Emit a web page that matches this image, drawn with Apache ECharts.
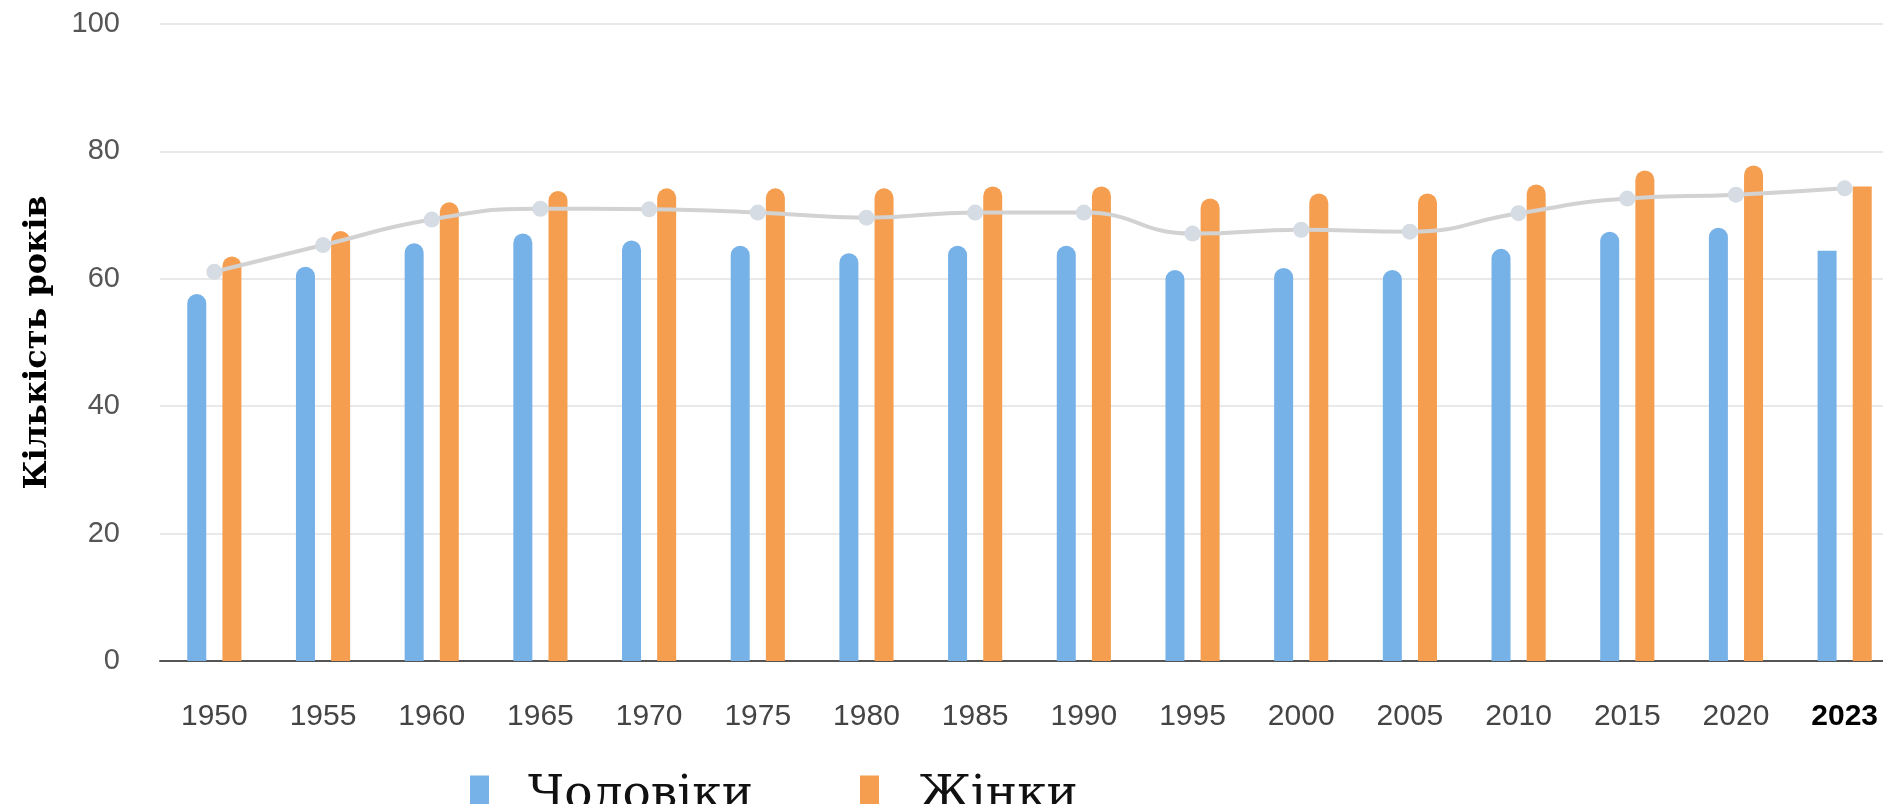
<!DOCTYPE html>
<html>
<head>
<meta charset="utf-8">
<script src="https://cdn.jsdelivr.net/npm/echarts@6/dist/echarts.min.js"></script>
<style>
	html, body { margin: 0; padding: 0; background: #fff; overflow: hidden; }
	#lifeChart { width: 1900px; height: 804px; }
</style>
</head>
<body>
<div id="lifeChart"></div>
<script>
	// роки
	var years = ["1950", "1955", "1960", "1965", "1970", "1975", "1980", "1985",
		"1990", "1995", "2000", "2005", "2010", "2015", "2020", "2023"];
	// тривалість життя, роки
	var men = [57.6, 61.9, 65.6, 67.1, 66.0, 65.2, 64.0, 65.2,
		65.2, 61.4, 61.7, 61.4, 64.7, 67.4, 68.0, 64.4];
	var women = [63.5, 67.5, 72.0, 73.8, 74.2, 74.2, 74.2, 74.5,
		74.5, 72.6, 73.4, 73.4, 74.8, 77.0, 77.8, 74.5];
	var total = [61.1, 65.3, 69.3, 71.0, 70.9, 70.4, 69.6, 70.4,
		70.4, 67.1, 67.7, 67.4, 70.3, 72.6, 73.2, 74.2];
	var yTicks = [0, 20, 40, 60, 80, 100];

	var legendFont = {
		fontFamily: "DejaVu Serif",
		fontSize: 47,
		color: "#111",
		padding: [0, 0, 0, 34]
	};

	function barData(values) {
		// last bar (2023) has a flat top
		var list = [];
		for (let i = 0; i < values.length; i++) {
			if (i == values.length - 1) {
				list.push({ value: values[i], itemStyle: { borderRadius: 0 } });
			} else {
				list.push(values[i]);
			}
		}
		return list;
	}

	var option = {
		animation: false,
		backgroundColor: "#fff",
		grid: {
			left: 160,
			right: 1,
			top: 24,
			bottom: 143
		},
		legend: [{
			data: ["Чоловіки"],
			left: 465,
			top: 767,
			itemWidth: 19,
			itemHeight: 40,
			icon: "rect",
			textStyle: legendFont
		}, {
			data: ["Жінки"],
			left: 855,
			top: 767,
			itemWidth: 19,
			itemHeight: 40,
			icon: "rect",
			textStyle: legendFont
		}],
		xAxis: [{
			type: "category",
			data: years,
			axisTick: { show: false },
			axisLine: { lineStyle: { color: "#555", width: 2 } },
			axisLabel: {
				interval: 0,
				margin: 41,
				fontFamily: "Liberation Sans",
				fontSize: 30,
				color: "#444",
				formatter: function(v) {
					return v == "2023" ? "{b|" + v + "}" : v;
				},
				rich: {
					b: { fontFamily: "Liberation Sans", fontSize: 30, fontWeight: "bold", color: "#000" }
				}
			}
		}],
		yAxis: [{
			type: "value",
			min: yTicks[0],
			max: yTicks[yTicks.length - 1],
			interval: 20,
			name: "Кількість років",
			nameLocation: "middle",
			nameRotate: 90,
			nameGap: 106,
			nameTextStyle: {
				fontFamily: "DejaVu Serif",
				fontWeight: "bold",
				fontSize: 32,
				color: "#000"
			},
			axisLabel: {
				margin: 40,
				fontFamily: "Liberation Sans",
				fontSize: 29,
				color: "#555"
			},
			splitLine: { lineStyle: { color: "#e9e9e9", width: 2 } }
		}],
		series: [{
			name: "Чоловіки",
			type: "bar",
			barWidth: 19,
			barGap: "85%",
			itemStyle: { color: "#76b1e8", borderRadius: [10, 10, 0, 0] },
			data: barData(men)
		}, {
			name: "Жінки",
			type: "bar",
			barWidth: 19,
			itemStyle: { color: "#f59e50", borderRadius: [10, 10, 0, 0] },
			data: barData(women)
		}, {
			name: "Разом",
			type: "line",
			smooth: true,
			z: 5,
			symbol: "circle",
			symbolSize: 16,
			lineStyle: { color: "#d2d2d2", width: 4 },
			itemStyle: { color: "#d6dce3" },
			data: total
		}]
	};

	let myChart = echarts.init(document.getElementById("lifeChart"));
	myChart.setOption(option);
</script>
</body>
</html>
